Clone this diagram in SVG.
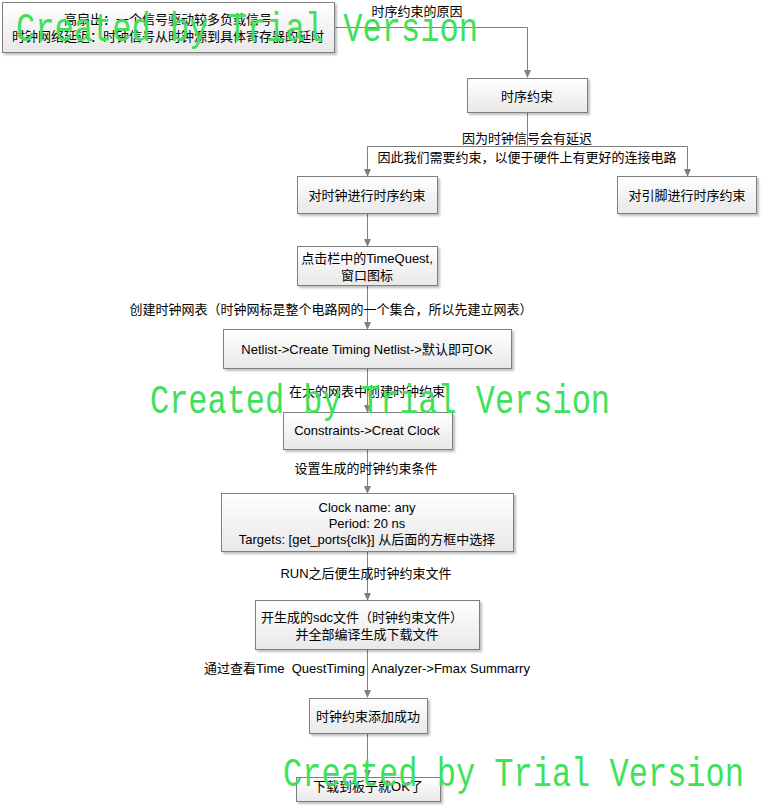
<svg xmlns="http://www.w3.org/2000/svg" width="761" height="805" viewBox="0 0 761 805">
<defs>
<linearGradient id="g" x1="0" y1="0" x2="0" y2="1"><stop offset="0" stop-color="#ffffff"/><stop offset="1" stop-color="#e8e8e8"/></linearGradient>
<marker id="ar" markerWidth="8" markerHeight="7" refX="7" refY="3.5" orient="auto" markerUnits="userSpaceOnUse"><path d="M0,0 L8,3.5 L0,7 Z" fill="#808080"/></marker>
<filter id="sh" x="-5%" y="-5%" width="115%" height="130%"><feDropShadow dx="2" dy="2" stdDeviation="1" flood-color="#000" flood-opacity="0.25"/></filter>
</defs>
<style>
.b{fill:url(#g);stroke:#7f7f7f;stroke-width:1;filter:url(#sh)}
.t{font-family:"Liberation Sans","Noto Sans CJK SC",sans-serif;font-size:13px;fill:#000;text-anchor:middle;dominant-baseline:central;white-space:pre}
.c{fill:none;stroke:#808080;stroke-width:1}
.w{font-family:"Liberation Mono","Courier New",monospace;font-size:40px;fill:#3fe05a}
</style>
<rect width="761" height="805" fill="#fff"/>
<g id="connectors">
<path class="c" d="M335.5,27.5 H527.5 V77" marker-end="url(#ar)"/>
<path class="c" d="M527.5,113 V146.5 H367.5 V176" marker-end="url(#ar)"/>
<path class="c" d="M527.5,146.5 H687.5 V176" marker-end="url(#ar)"/>
<path class="c" d="M367.5,214 V246" marker-end="url(#ar)"/>
<path class="c" d="M367.5,286 V329" marker-end="url(#ar)"/>
<path class="c" d="M367.5,369 V412" marker-end="url(#ar)"/>
<path class="c" d="M367.5,450 V493" marker-end="url(#ar)"/>
<path class="c" d="M367.5,552 V600" marker-end="url(#ar)"/>
<path class="c" d="M367.5,650 V697" marker-end="url(#ar)"/>
<path class="c" d="M367.5,734 V777" marker-end="url(#ar)"/>
<text class="t" x="417" y="11">时序约束的原因</text>
<text class="t" x="527" y="138">因为时钟信号会有延迟</text>
<text class="t" x="527" y="157">因此我们需要约束，以便于硬件上有更好的连接电路</text>
<text class="t" x="331" y="309">创建时钟网表（时钟网标是整个电路网的一个集合，所以先建立网表）</text>
<text class="t" x="367" y="391">在大的网表中创建时钟约束</text>
<text class="t" x="366" y="468">设置生成的时钟约束条件</text>
<text class="t" x="366" y="573">RUN之后便生成时钟约束文件</text>
<text class="t" x="367" y="668" xml:space="preserve">通过查看Time  QuestTiming  Analyzer-&gt;Fmax Summarry</text>
</g>
<g id="n1"><rect class="b" x="2.5" y="2.5" width="332" height="50"/><text class="t" x="168" y="19">高扇出：一个信号驱动较多负载信号</text><text class="t" x="168" y="36">时钟网络延迟：时钟信号从时钟源到具体寄存器的延时</text></g>
<g id="n2"><rect class="b" x="467.5" y="78.5" width="120" height="34"/><text class="t" x="527" y="96">时序约束</text></g>
<g id="n3"><rect class="b" x="297.5" y="176.5" width="140" height="37"/><text class="t" x="367" y="195">对时钟进行时序约束</text></g>
<g id="n4"><rect class="b" x="617.5" y="176.5" width="139" height="37"/><text class="t" x="687" y="195">对引脚进行时序约束</text></g>
<g id="n5"><rect class="b" x="297.5" y="246.5" width="140" height="39"/><text class="t" x="367" y="258">点击栏中的TimeQuest,</text><text class="t" x="367" y="275">窗口图标</text></g>
<g id="n6"><rect class="b" x="223.5" y="329.5" width="288" height="39"/><text class="t" x="367" y="349">Netlist-&gt;Create Timing Netlist-&gt;默认即可OK</text></g>
<g id="n7"><rect class="b" x="283.5" y="412.5" width="169" height="37"/><text class="t" x="367" y="430">Constraints-&gt;Creat Clock</text></g>
<g id="n8"><rect class="b" x="221.5" y="493.5" width="292" height="58"/><text class="t" x="367" y="507">Clock name: any</text><text class="t" x="367" y="523">Period: 20 ns</text><text class="t" x="367" y="539">Targets: [get_ports{clk}] 从后面的方框中选择</text></g>
<g id="n9"><rect class="b" x="255.5" y="600.5" width="224" height="49"/><text class="t" x="362" y="617">开生成的sdc文件（时钟约束文件）</text><text class="t" x="367" y="634">并全部编译生成下载文件</text></g>
<g id="n10"><rect class="b" x="309.5" y="698.5" width="118" height="35"/><text class="t" x="368" y="716">时钟约束添加成功</text></g>
<g id="n11"><rect class="b" x="296.5" y="777.5" width="144" height="24"/><text class="t" x="368" y="786">下载到板子就OK了</text></g>
<g id="watermark">
<text class="w" x="16" y="41" textLength="462" lengthAdjust="spacingAndGlyphs">Created by Trial Version</text>
<text class="w" x="150" y="413" textLength="460" lengthAdjust="spacingAndGlyphs">Created by Trial Version</text>
<text class="w" x="283" y="786" textLength="461" lengthAdjust="spacingAndGlyphs">Created by Trial Version</text>
</g>
</svg>
